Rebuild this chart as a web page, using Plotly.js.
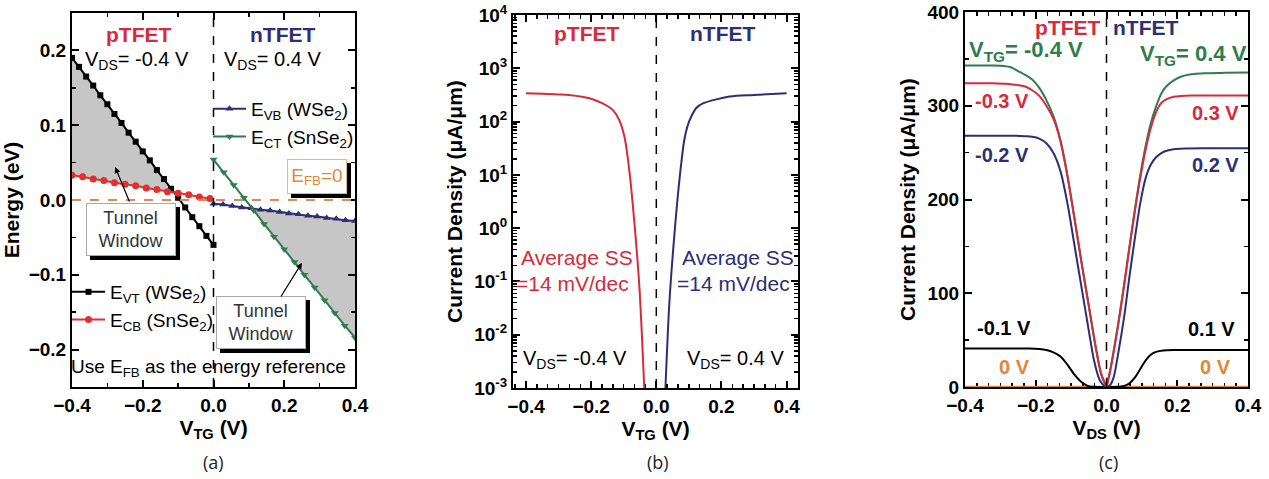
<!DOCTYPE html>
<html><head><meta charset="utf-8">
<script src="https://cdn.plot.ly/plotly-3.0.1.min.js"></script>
<style>html,body{margin:0;padding:0;background:#fff}#chart{width:1269px;height:479px}</style>
</head><body><div id="chart"></div>
<script>
// ---------- Panel (a): band energies vs V_TG ----------
const evtX = [-0.40,-0.38,-0.36,-0.34,-0.32,-0.30,-0.28,-0.26,-0.24,-0.22,-0.20,-0.18,-0.16,-0.14,-0.12,-0.10,-0.08,-0.06,-0.04,-0.02,0.00];
const evtY = [0.190,0.178,0.165,0.153,0.140,0.128,0.115,0.103,0.090,0.078,0.065,0.053,0.040,0.028,0.015,0.003,-0.010,-0.023,-0.035,-0.048,-0.060];
const ecbX = [-0.40,-0.37,-0.34,-0.31,-0.28,-0.25,-0.22,-0.19,-0.16,-0.13,-0.10,-0.07,-0.04,-0.01];
const ecbY = [0.033,0.031,0.028,0.026,0.023,0.021,0.019,0.016,0.014,0.011,0.009,0.007,0.004,0.002];
const evbX = [0.000,0.027,0.053,0.080,0.107,0.133,0.160,0.187,0.213,0.240,0.267,0.293,0.320,0.347,0.373,0.400];
const evbY = [-0.005,-0.006,-0.008,-0.010,-0.011,-0.013,-0.014,-0.016,-0.018,-0.019,-0.021,-0.022,-0.024,-0.025,-0.027,-0.028];
const ectX = [0.000,0.029,0.057,0.086,0.114,0.143,0.171,0.200,0.229,0.257,0.286,0.314,0.343,0.371,0.400];
const ectY = [0.054,0.037,0.020,0.003,-0.014,-0.032,-0.049,-0.066,-0.083,-0.100,-0.117,-0.134,-0.151,-0.168,-0.184];

// ---------- Panel (b): transfer curves (uA/um) ----------
const pTrX = [-0.400,-0.300,-0.268,-0.200,-0.165,-0.134,-0.114,-0.098,-0.083,-0.068,-0.052,-0.037];
const pTrY = [339,324,316,269,219,166,107,52.5,12.3,1.41,0.079,0.001];
const nTrX = [0.028,0.040,0.055,0.071,0.086,0.096,0.107,0.122,0.143,0.225,0.300,0.400];
const nTrY = [0.001,0.0389,0.692,8.13,45.7,83,123,178,219,295,316,339];
const bTickVals = [0.001,0.01,0.1,1,10,100,1000,10000];
const bTickText = ['10<sup>-3</sup>','10<sup>-2</sup>','10<sup>-1</sup>','10<sup>0</sup>','10<sup>1</sup>','10<sup>2</sup>','10<sup>3</sup>','10<sup>4</sup>'];

// ---------- Panel (c): output curves (uA/um) ----------
const vtgLabelsP = ["-0.4 V","-0.3 V","-0.2 V","-0.1 V","0 V"];
const vtgLabelsN = ["0.4 V","0.3 V","0.2 V","0.1 V","0 V"];
const pm04X = [-0.40,-0.36,-0.32,-0.29,-0.27,-0.25,-0.23,-0.21,-0.19,-0.17,-0.15,-0.13,-0.11,-0.09,-0.07,-0.05,-0.03,-0.015,0];
const pm04Y = [343,343,343,342.5,341,337,333,328,319,306,289,263,225,179,132,87,42,14,0];
const pm03X = [-0.40,-0.36,-0.32,-0.29,-0.27,-0.25,-0.23,-0.21,-0.19,-0.17,-0.15,-0.13,-0.11,-0.09,-0.07,-0.05,-0.03,-0.015,0];
const pm03Y = [324,324,324,323.5,323,322,320.5,316.5,310.5,300,286,262,224,178,131,86,41,13.5,0];
const pm02X = [-0.40,-0.35,-0.30,-0.26,-0.23,-0.21,-0.19,-0.17,-0.15,-0.13,-0.11,-0.09,-0.07,-0.05,-0.035,-0.02,-0.01,0];
const pm02Y = [268,268,268,268,267.5,267,265,260,249.5,230,195,150,105,60,28,8,2.5,0];
const pm01X = [-0.40,-0.34,-0.28,-0.22,-0.19,-0.17,-0.15,-0.13,-0.11,-0.09,-0.07,-0.055,-0.04,-0.02,0];
const pm01Y = [41,41,41,41,40.5,39.5,37,32.5,23.5,13,5,1.5,0.2,0,0];
const p00X = [-0.40,0];
const p00Y = [0,0];
const np04X = [0,0.01,0.02,0.035,0.05,0.065,0.08,0.095,0.11,0.125,0.14,0.155,0.17,0.19,0.21,0.24,0.28,0.34,0.40];
const np04Y = [0,17,38,72,110,150,189,225,256,281,299,313,321,327,331,333.5,334.6,335.2,335.5];
const np03X = [0,0.01,0.02,0.035,0.05,0.065,0.08,0.095,0.11,0.125,0.14,0.155,0.17,0.19,0.21,0.24,0.30,0.40];
const np03Y = [0,16.5,37,71,109,149,187,222,252,276,293,303,307,309.5,310.5,311,311,311];
const np02X = [0,0.01,0.02,0.035,0.05,0.065,0.08,0.095,0.11,0.125,0.14,0.155,0.17,0.19,0.22,0.28,0.40];
const np02Y = [0,2,10,40,75,118,158,195,222,237,245,249.5,252,253.5,254.3,254.6,254.6];
const np01X = [0,0.02,0.035,0.05,0.065,0.08,0.095,0.11,0.125,0.14,0.16,0.19,0.25,0.32,0.40];
const np01Y = [0,0,0.2,1,4,10,19,28,34.5,37.5,39,39.5,39.5,39.5,39.5];
const n00X = [0,0.40];
const n00Y = [0,0];

// ---------- styling ----------
const FONT = "Liberation Sans, Arial, sans-serif";
const RED = "#d62b3c", NAVY = "#2d2f73", GREEN = "#2f7d4c", ORANGE = "#e0873a", BLACK = "#000";

function interp(xs, ys, x) {
  if (x <= xs[0]) return ys[0] + (ys[1]-ys[0])*(x-xs[0])/(xs[1]-xs[0]);
  for (let i = 1; i < xs.length; i++) {
    if (x <= xs[i]) return ys[i-1] + (ys[i]-ys[i-1])*(x-xs[i-1])/(xs[i]-xs[i-1]);
  }
  const n = xs.length;
  return ys[n-1] + (ys[n-1]-ys[n-2])*(x-xs[n-1])/(xs[n-1]-xs[n-2]);
}
function crossing(gx, f, g) {
  for (let i = 1; i < gx.length; i++) {
    const d0 = f(gx[i-1]) - g(gx[i-1]), d1 = f(gx[i]) - g(gx[i]);
    if (d0 * d1 <= 0) { const t = d0/(d0-d1); const x = gx[i-1] + t*(gx[i]-gx[i-1]); return [x, f(x)]; }
  }
  return null;
}
const fVT = x => interp(evtX, evtY, x), fCB = x => interp(ecbX, ecbY, x);
const fVB = x => interp(evbX, evbY, x), fCT = x => interp(ectX, ectY, x);

const cL = crossing(evtX, fVT, fCB);
const lx = evtX.filter(x => x < cL[0]);
const leftPolyX = lx.concat([cL[0]]).concat(lx.slice().reverse());
const leftPolyY = lx.map(fVT).concat([cL[1]]).concat(lx.slice().reverse().map(fCB));
const cR = crossing(ectX, fCT, fVB);
const rx = ectX.filter(x => x > cR[0]);
const rightPolyX = [cR[0]].concat(rx).concat(rx.slice().reverse());
const rightPolyY = [cR[1]].concat(rx.map(fCT)).concat(rx.slice().reverse().map(fVB));

const traces = [
  {x: leftPolyX, y: leftPolyY, xaxis:'x', yaxis:'y', mode:'lines', fill:'toself', fillcolor:'#c6c6c6', line:{width:0}, showlegend:false, hoverinfo:'skip'},
  {x: rightPolyX, y: rightPolyY, xaxis:'x', yaxis:'y', mode:'lines', fill:'toself', fillcolor:'#c6c6c6', line:{width:0}, showlegend:false, hoverinfo:'skip'},
  {x: evtX, y: evtY, xaxis:'x', yaxis:'y', mode:'lines+markers', name:'E<sub>VT</sub> (WSe<sub>2</sub>)', line:{color:BLACK, width:2}, marker:{symbol:'square', size:6, color:BLACK}, legend:'legend2'},
  {x: ecbX, y: ecbY, xaxis:'x', yaxis:'y', mode:'lines+markers', name:'E<sub>CB</sub> (SnSe<sub>2</sub>)', line:{color:'#e03030', width:2}, marker:{symbol:'circle', size:7, color:'#e03030'}, legend:'legend2'},
  {x: evbX, y: evbY, xaxis:'x', yaxis:'y', mode:'lines+markers', name:'E<sub>VB</sub> (WSe<sub>2</sub>)', line:{color:NAVY, width:2}, marker:{symbol:'triangle-up', size:7, color:NAVY}, legend:'legend'},
  {x: ectX, y: ectY, xaxis:'x', yaxis:'y', mode:'lines+markers', name:'E<sub>CT</sub> (SnSe<sub>2</sub>)', line:{color:GREEN, width:2}, marker:{symbol:'triangle-down', size:7, color:GREEN}, legend:'legend'},
  {x: pTrX, y: pTrY, xaxis:'x2', yaxis:'y2', mode:'lines', line:{color:RED, width:2, shape:'spline', smoothing:0.8}, showlegend:false},
  {x: nTrX, y: nTrY, xaxis:'x2', yaxis:'y2', mode:'lines', line:{color:NAVY, width:2, shape:'spline', smoothing:0.8}, showlegend:false},
];
traces.push({x:p00X, y:p00Y, xaxis:'x3', yaxis:'y3', mode:'lines', line:{color:ORANGE, width:2.5}, cliponaxis:false, showlegend:false});
traces.push({x:n00X, y:n00Y, xaxis:'x3', yaxis:'y3', mode:'lines', line:{color:ORANGE, width:2.5}, cliponaxis:false, showlegend:false});
const cCurves = [
  [pm01X, pm01Y, BLACK], [pm02X, pm02Y, NAVY], [pm04X, pm04Y, GREEN], [pm03X, pm03Y, RED],
  [np01X, np01Y, BLACK], [np02X, np02Y, NAVY], [np04X, np04Y, GREEN], [np03X, np03Y, RED],
];
cCurves.forEach(c => traces.push({x:c[0], y:c[1], xaxis:'x3', yaxis:'y3', mode:'lines', line:{color:c[2], width:2, shape:'spline', smoothing:0.8}, showlegend:false}));

const W = 1269, H = 479;
const dx = (a,b) => [a/W, b/W];
const dy = (top,bot) => [1-bot/H, 1-top/H];
const tickFont = {family:FONT, size:19, color:'black', weight:'bold'};
const titleFont = {family:FONT, size:21, color:'black', weight:'bold'};
function ax(extra) {
  return Object.assign({showline:true, linecolor:'black', linewidth:2, mirror:'allticks', ticks:'inside', ticklen:7, tickwidth:2, tickcolor:'black',
    showgrid:false, zeroline:false, tickfont:tickFont, fixedrange:true}, extra);
}
const minor = (d, len) => ({ticks:'inside', ticklen:len||4, tickwidth:1.5, tickcolor:'black', dtick:d, showgrid:false});

function txt(text, x, y, xr, yr, color, size, bold, extra) {
  return Object.assign({text, x, y, xref:xr, yref:yr, showarrow:false, xanchor:'center', yanchor:'middle',
    font:{family:FONT, size, color, weight: bold ? 'bold' : 'normal'}}, extra||{});
}
function box(text, x, y, color, size, w, h, border) {
  const base = {text, x, y, xref:'x', yref:'y', showarrow:false, xanchor:'center', yanchor:'middle', width:w, height:h, align:'center'};
  return [
    Object.assign({}, base, {font:{family:FONT, size, color:'black'}, bgcolor:'black', bordercolor:'black', borderwidth:1, xshift:4, yshift:-4}),
    Object.assign({}, base, {font:{family:FONT, size, color}, bgcolor:'white', bordercolor:border, borderwidth:1}),
  ];
}
function arrow(hx, hy, tx, ty) {
  return {x:hx, y:hy, ax:tx, ay:ty, xref:'x', yref:'y', axref:'x', ayref:'y', text:'', showarrow:true,
    arrowhead:2, arrowsize:1, arrowwidth:1.2, arrowcolor:'black', standoff:0, startstandoff:0};
}
const subLab = () => ({family:'Open Sans, sans-serif', size:18, color:'#222'});

const annotations = [
  txt('pTFET', -0.213, 0.221, 'x', 'y', RED, 21, true),
  txt('nTFET', 0.196, 0.221, 'x', 'y', NAVY, 21, true),
  txt('V<sub>DS</sub>= -0.4 V', -0.215, 0.187, 'x', 'y', 'black', 20, false),
  txt('V<sub>DS</sub>= 0.4 V', 0.168, 0.187, 'x', 'y', 'black', 20, false),
  ...box('E<sub>FB</sub>=0', 0.293, 0.032, ORANGE, 19, 56, 31, '#e8b48c'),
  ...box('Tunnel<br>Window', -0.232, -0.040, '#333', 18, 86, 49, '#aaaaaa'),
  ...box('Tunnel<br>Window', 0.133, -0.164, '#333', 18, 86, 49, '#aaaaaa'),
  arrow(-0.278, 0.044, -0.236, -0.004),
  arrow(0.250, -0.084, 0.188, -0.131),
  txt('Use E<sub>FB</sub> as the energy reference', -0.013, -0.2246, 'x', 'y', 'black', 19, false),
  txt('pTFET', -0.215, 3.66, 'x2', 'y2', RED, 21, true),
  txt('nTFET', 0.203, 3.66, 'x2', 'y2', NAVY, 21, true),
  txt('Average SS', -0.245, -0.56, 'x2', 'y2', RED, 21, false),
  txt('=14 mV/dec', -0.256, -1.03, 'x2', 'y2', RED, 21, false),
  txt('Average SS', 0.252, -0.56, 'x2', 'y2', NAVY, 21, false),
  txt('=14 mV/dec', 0.238, -1.03, 'x2', 'y2', NAVY, 21, false),
  txt('V<sub>DS</sub>= -0.4 V', -0.249, -2.47, 'x2', 'y2', 'black', 20, false),
  txt('V<sub>DS</sub>= 0.4 V', 0.243, -2.47, 'x2', 'y2', 'black', 20, false),
  txt('pTFET', -0.109, 383.7, 'x3', 'y3', RED, 21, true),
  txt('nTFET', 0.109, 383.7, 'x3', 'y3', NAVY, 21, true),
  txt('V<sub>TG</sub>= ' + vtgLabelsP[0], -0.228, 358, 'x3', 'y3', GREEN, 22, true),
  txt('V<sub>TG</sub>= ' + vtgLabelsN[0], 0.246, 354, 'x3', 'y3', GREEN, 22, true),
  txt(vtgLabelsP[1], -0.296, 305, 'x3', 'y3', RED, 20, true),
  txt(vtgLabelsN[1], 0.309, 292, 'x3', 'y3', RED, 20, true),
  txt(vtgLabelsP[2], -0.296, 247.5, 'x3', 'y3', NAVY, 20, true),
  txt(vtgLabelsN[2], 0.309, 236.8, 'x3', 'y3', NAVY, 20, true),
  txt(vtgLabelsP[3], -0.290, 62.6, 'x3', 'y3', 'black', 20, true),
  txt(vtgLabelsN[3], 0.297, 61.5, 'x3', 'y3', 'black', 20, true),
  txt(vtgLabelsP[4], -0.259, 21.7, 'x3', 'y3', ORANGE, 20, true),
  txt(vtgLabelsN[4], 0.307, 21.7, 'x3', 'y3', ORANGE, 20, true),
  txt('(a)', 213/W, 1-462/H, 'paper', 'paper', '#222', 18, false, {font:subLab()}),
  txt('(b)', 658/W, 1-462/H, 'paper', 'paper', '#222', 18, false, {font:subLab()}),
  txt('(c)', 1108/W, 1-462/H, 'paper', 'paper', '#222', 18, false, {font:subLab()}),
];

const shapes = [
  {type:'line', xref:'x', yref:'y domain', x0:0, x1:0, y0:0, y1:1, line:{color:'black', width:1.5, dash:'dash'}},
  {type:'line', xref:'x domain', yref:'y', x0:0, x1:1, y0:0, y1:0, line:{color:'#d98a5c', width:2, dash:'dash'}},
  {type:'line', xref:'x2', yref:'y2 domain', x0:0, x1:0, y0:0, y1:1, line:{color:'black', width:1.5, dash:'dash'}},
  {type:'line', xref:'x3', yref:'y3 domain', x0:0, x1:0, y0:0, y1:1, line:{color:'black', width:1.5, dash:'dash'}},
];

const legendBase = {bgcolor:'rgba(0,0,0,0)', borderwidth:0, font:{family:FONT, size:19, color:'black'}, xanchor:'left', yanchor:'top', tracegroupgap:0, itemwidth:33, itemclick:false, itemdoubleclick:false};

const layout = {
  width:W, height:H, margin:{l:0, r:0, t:0, b:0}, paper_bgcolor:'white', plot_bgcolor:'white',
  font:{family:FONT},
  showlegend:true,
  legend: Object.assign({x:208/W, y:1-90/H}, legendBase),
  legend2: Object.assign({x:67/W, y:1-273/H}, legendBase),
  xaxis: ax({domain:dx(72,355), range:[-0.4,0.4], dtick:0.2, tick0:0, tickformat:'.1f', minor:minor(0.1),
    title:{text:'V<sub>TG</sub> (V)', font:titleFont, standoff:3}, anchor:'y'}),
  yaxis: ax({domain:dy(13,387), range:[-0.25,0.25], dtick:0.1, tick0:0, tickformat:'.1f', minor:minor(0.05),
    title:{text:'Energy (eV)', font:titleFont, standoff:6}, anchor:'x'}),
  xaxis2: ax({domain:dx(513,798), range:[-0.44,0.435], dtick:0.2, tick0:0, tickformat:'.1f', minor:minor(0.2/6),
    title:{text:'V<sub>TG</sub> (V)', font:titleFont, standoff:3}, anchor:'y2'}),
  yaxis2: ax({domain:dy(15,388), type:'log', range:[-3,4.0005], tickmode:'array', tickvals:bTickVals, ticktext:bTickText, minor:minor('D1', 4),
    title:{text:'Current Density (μA/μm)', font:titleFont, standoff:6}, anchor:'x2'}),
  xaxis3: ax({domain:dx(965,1248), range:[-0.4,0.4], dtick:0.2, tick0:0, tickformat:'.1f', minor:minor(0.2/6), layer:'below traces',
    title:{text:'V<sub>DS</sub> (V)', font:titleFont, standoff:3}, anchor:'y3'}),
  yaxis3: ax({domain:dy(12,387), range:[0,400], dtick:100, tick0:0, minor:minor(50), layer:'below traces',
    title:{text:'Current Density (μA/μm)', font:titleFont, standoff:6}, anchor:'x3'}),
  annotations, shapes,
};

Plotly.newPlot('chart', traces, layout, {staticPlot:true, displayModeBar:false});
</script></body></html>
